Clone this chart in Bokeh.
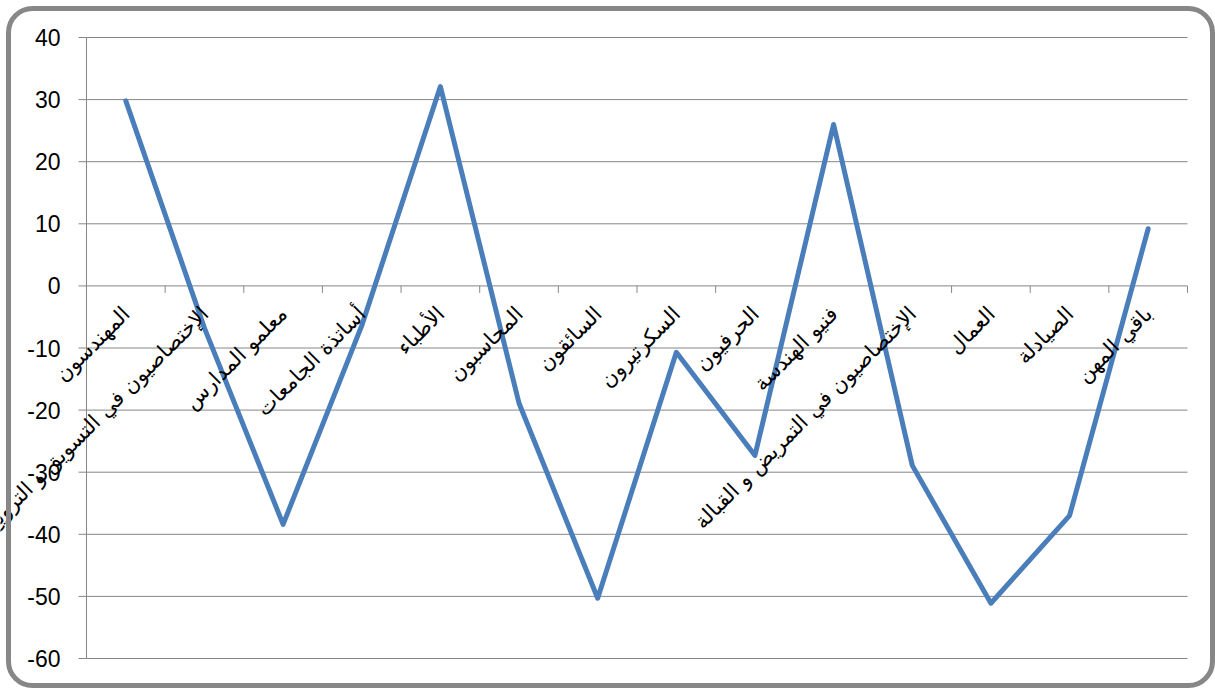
import math
from bokeh.plotting import figure
from bokeh.models import ColumnDataSource, LabelSet, Range1d, BoxAnnotation, Node
from bokeh.embed import file_html
from bokeh.resources import INLINE
from bokeh.core.properties import value

categories = [
    "المهندسون",
    "الإختصاصيون في التسويق و الترويج",
    "معلمو المدارس",
    "أساتذة الجامعات",
    "الأطباء",
    "المحاسبون",
    "السائقون",
    "السكرتيرون",
    "الحرفيون",
    "فنيو الهندسة",
    "الإختصاصيون في التمريض و القبالة",
    "العمال",
    "الصيادلة",
    "باقي المهن",
]
values = [29.8, -6.8, -38.4, -6.4, 32.1, -18.9, -50.3, -10.7, -27.3, 26.0, -28.9, -51.1, -37.0, 9.2]
y_ticks = [-60, -50, -40, -30, -20, -10, 0, 10, 20, 30, 40]
y_tick_labels = [str(t) for t in y_ticks]

# ---- layout (pixels) ----
W, H = 1215, 688
PLOT_L, PLOT_R, PLOT_T, PLOT_B = 86, 1187, 37, 658
GRAY = "#868686"

n = len(categories)
y_lo, y_hi = min(y_ticks), max(y_ticks)
sx = (PLOT_R - PLOT_L) / n
sy = (PLOT_B - PLOT_T) / (y_hi - y_lo)

p = figure(width=W, height=H, output_backend="svg", toolbar_location=None,
           x_range=Range1d(-PLOT_L / sx, n + (W - PLOT_R) / sx),
           y_range=Range1d(y_lo - (H - PLOT_B) / sy, y_hi + PLOT_T / sy),
           x_axis_location=None, y_axis_location=None,
           min_border=0, min_border_left=0, min_border_right=0, min_border_top=0, min_border_bottom=0,
           background_fill_color="white", border_fill_color="white")
p.outline_line_color = None
p.xgrid.visible = False
p.ygrid.visible = False

xs = [i + 0.5 for i in range(n)]
src = ColumnDataSource(dict(x=xs, y=values, label=categories, ly=[0] * n))
bounds = ColumnDataSource(dict(x=list(range(n + 1)), y=[0] * (n + 1)))
ytk = ColumnDataSource(dict(x0=[0] * len(y_ticks), x1=[n] * len(y_ticks), y=y_ticks, label=y_tick_labels))

# horizontal gridlines
p.segment(x0="x0", y0="y", x1="x1", y1="y", source=ytk, line_color=GRAY, line_width=1)
# y-axis tick marks
p.ray(x="x0", y="y", source=ytk, length=8, length_units="screen", angle=math.pi,
      line_color=GRAY, line_width=1)
# y-axis line
p.line(x=[0, 0], y=[y_lo, y_hi], line_color=GRAY, line_width=1)
# y tick labels
p.text(x="x0", y="y", text="label", source=ytk, x_offset=-26, text_align="right",
       text_baseline="middle", text_font=value("Liberation Sans"), text_font_size="23px",
       text_color="black")

# category boundary tick marks on the zero line
p.ray(x="x", y="y", source=bounds, length=7, length_units="screen", angle=-math.pi / 2,
      line_color=GRAY, line_width=1)

p.line("x", "y", source=src, line_color="#4A7EBB", line_width=5, line_join="round", line_cap="round")

labels = LabelSet(x="x", y="ly", text="label", source=src, angle=math.pi / 4,
                  text_align="right", text_baseline="top", x_offset=-8, y_offset=-16,
                  text_font=value("DejaVu Sans"), text_font_size=value("21px"), text_color="black")
p.add_layout(labels)

border = BoxAnnotation(
    left=Node(target="frame", symbol="left", offset=8),
    right=Node(target="frame", symbol="right", offset=-3),
    top=Node(target="frame", symbol="top", offset=8),
    bottom=Node(target="frame", symbol="bottom", offset=-3),
    fill_color=None, fill_alpha=0, line_color="#878787", line_alpha=1.0, line_width=5,
    border_radius=24, level="overlay")
p.add_layout(border)

open("out.html", "w").write(file_html(p, INLINE))
